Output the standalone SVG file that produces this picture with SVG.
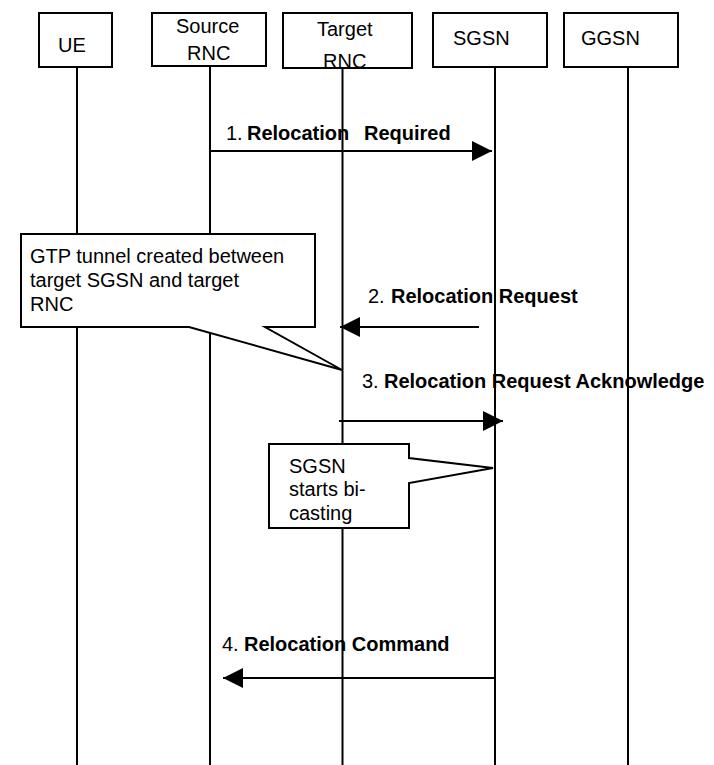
<svg xmlns="http://www.w3.org/2000/svg" width="714" height="765" viewBox="0 0 714 765">
<style>
text{font-family:"Liberation Sans",Arial,sans-serif;font-size:20px;fill:#000}
.b{font-weight:bold}
.box{fill:#fff;stroke:#000;stroke-width:2}
.life{stroke:#000;stroke-width:2;fill:none}
.msg{stroke:#000;stroke-width:2;fill:none;marker-end:url(#ah)}
.note{fill:#fff;stroke:#000;stroke-width:2;stroke-linejoin:miter}
</style>
<defs>
<marker id="ah" viewBox="0 0 20 20" refX="20" refY="10" markerWidth="20" markerHeight="20" markerUnits="userSpaceOnUse" orient="auto">
<path d="M0,0 L20,10 L0,20 Z" fill="#000"/>
</marker>
</defs>
<g id="lifelines">
<line class="life" x1="77" y1="66" x2="77" y2="765"/>
<line class="life" x1="210" y1="66" x2="210" y2="765"/>
<line class="life" x1="342.5" y1="67" x2="342.5" y2="765"/>
<line class="life" x1="495" y1="66" x2="495" y2="765"/>
<line class="life" x1="628" y1="66" x2="628" y2="765"/>
</g>
<g id="ue"><rect class="box" x="39" y="13" width="73" height="54"/><text x="58" y="52">UE</text></g>
<g id="source-rnc"><rect class="box" x="152" y="13" width="114" height="53"/><text x="176" y="33">Source</text><text x="187" y="60">RNC</text></g>
<g id="target-rnc"><rect class="box" x="283" y="13" width="129" height="55"/><text x="317" y="36">Target</text><text x="323" y="68">RNC</text></g>
<g id="sgsn"><rect class="box" x="433" y="13" width="114" height="54"/><text x="453" y="45">SGSN</text></g>
<g id="ggsn"><rect class="box" x="564" y="13" width="114" height="54"/><text x="581" y="45">GGSN</text></g>
<g id="connectors">
<line class="msg" x1="210" y1="151" x2="492" y2="151"/>
<line class="msg" x1="479" y1="327" x2="340" y2="327"/>
<line class="msg" x1="339" y1="421" x2="503" y2="421"/>
<line class="msg" x1="495" y1="678" x2="223" y2="678"/>
</g>
<g id="labels">
<text x="226" y="140">1. <tspan class="b" x="247">Relocation</tspan><tspan class="b" x="364">Required</tspan></text>
<text x="368" y="303">2. <tspan class="b" x="391">Relocation Request</tspan></text>
<text x="362" y="388">3. <tspan class="b" x="384">Relocation Request Acknowledge</tspan></text>
<text x="222" y="651">4. <tspan class="b" x="244">Relocation Command</tspan></text>
</g>
<g id="note-gtp">
<path class="note" d="M21,234 H315 V327 H265 L342,370 L189,327 H21 Z"/>
<text x="30" y="263">GTP tunnel created between</text>
<text x="30" y="287">target SGSN and target</text>
<text x="30" y="311">RNC</text>
</g>
<g id="note-bicast">
<path class="note" d="M269,444 H409 V458 L493,468 L409,483 V528 H269 Z"/>
<text x="289" y="473">SGSN</text>
<text x="289" y="496">starts bi-</text>
<text x="289" y="520">casting</text>
</g>
</svg>
